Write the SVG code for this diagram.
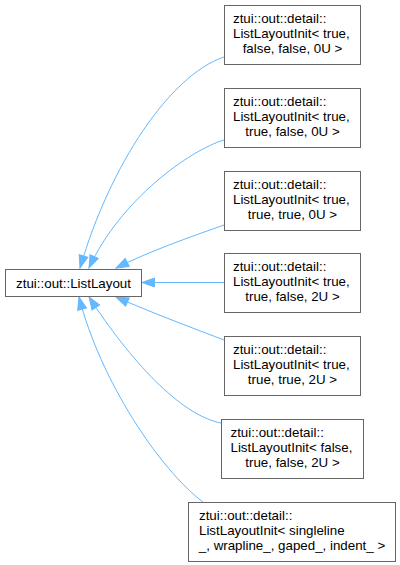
<svg xmlns="http://www.w3.org/2000/svg" width="400" height="565" viewBox="0 0 400 565">
<style>
  .box { fill: #ffffff; stroke: #666666; stroke-width: 1; }
  .lbl { font-family: "Liberation Sans", Arial, Helvetica, sans-serif; font-size: 13.33px; fill: #000000; }
  .mid { text-anchor: middle; }
  .edge { fill: none; stroke: #63b8ff; stroke-width: 1; marker-end: url(#arr); }
</style>
<defs>
  <marker id="arr" markerUnits="userSpaceOnUse" markerWidth="14" markerHeight="10" refX="12.5" refY="5" orient="auto" overflow="visible">
    <path d="M0,0.5 L12.5,5 L0,9.5 Z" fill="#63b8ff" stroke="#63b8ff" stroke-width="1"/>
  </marker>
</defs>
<rect width="400" height="565" fill="#ffffff"/>
<g id="connectors">
  <path class="edge" d="M224,57 C170,75 110,165 80,268"/>
  <path class="edge" d="M224,140 C190,150 120,200 89,268"/>
  <path class="edge" d="M224,225 C190,237 150,251 116,268"/>
  <path class="edge" d="M224,282.5 L142,282.5"/>
  <path class="edge" d="M224,340 C190,327 150,312 116,297"/>
  <path class="edge" d="M221,423 C180,415 130,360 89,297"/>
  <path class="edge" d="M203,502 C160,470 100,380 79,297"/>
</g>
<g id="node-ListLayout">
  <rect class="box" x="5.5" y="269.5" width="136" height="27"/>
  <text class="lbl mid" x="73.5" y="287.5">ztui::out::ListLayout</text>
</g>
<g id="node-1">
  <rect class="box" x="224.5" y="5.5" width="136" height="59"/>
  <text class="lbl" x="233" y="22.5">ztui::out::detail::</text>
  <text class="lbl" x="233" y="37.5">ListLayoutInit&lt; true,</text>
  <text class="lbl mid" x="292.5" y="52.5">false, false, 0U &gt;</text>
</g>
<g id="node-2">
  <rect class="box" x="224.5" y="88.5" width="136" height="59"/>
  <text class="lbl" x="233" y="105.5">ztui::out::detail::</text>
  <text class="lbl" x="233" y="120.5">ListLayoutInit&lt; true,</text>
  <text class="lbl mid" x="292.5" y="135.5">true, false, 0U &gt;</text>
</g>
<g id="node-3">
  <rect class="box" x="224.5" y="171.5" width="136" height="59"/>
  <text class="lbl" x="233" y="188.5">ztui::out::detail::</text>
  <text class="lbl" x="233" y="203.5">ListLayoutInit&lt; true,</text>
  <text class="lbl mid" x="292.5" y="218.5">true, true, 0U &gt;</text>
</g>
<g id="node-4">
  <rect class="box" x="224.5" y="253.5" width="136" height="59"/>
  <text class="lbl" x="233" y="270.5">ztui::out::detail::</text>
  <text class="lbl" x="233" y="285.5">ListLayoutInit&lt; true,</text>
  <text class="lbl mid" x="292.5" y="300.5">true, false, 2U &gt;</text>
</g>
<g id="node-5">
  <rect class="box" x="224.5" y="336.5" width="136" height="59"/>
  <text class="lbl" x="233" y="353.5">ztui::out::detail::</text>
  <text class="lbl" x="233" y="368.5">ListLayoutInit&lt; true,</text>
  <text class="lbl mid" x="292.5" y="383.5">true, true, 2U &gt;</text>
</g>
<g id="node-6">
  <rect class="box" x="221.5" y="419.5" width="142" height="59"/>
  <text class="lbl" x="230.5" y="436.5">ztui::out::detail::</text>
  <text class="lbl" x="230.5" y="451.5">ListLayoutInit&lt; false,</text>
  <text class="lbl mid" x="292.5" y="466.5">true, false, 2U &gt;</text>
</g>
<g id="node-7">
  <rect class="box" x="188.5" y="502.5" width="207" height="59"/>
  <text class="lbl" x="199" y="519.5">ztui::out::detail::</text>
  <text class="lbl" x="199" y="534.5">ListLayoutInit&lt; singleline</text>
  <text class="lbl mid" x="292" y="549.5">_, wrapline_, gaped_, indent_ &gt;</text>
</g>
</svg>
